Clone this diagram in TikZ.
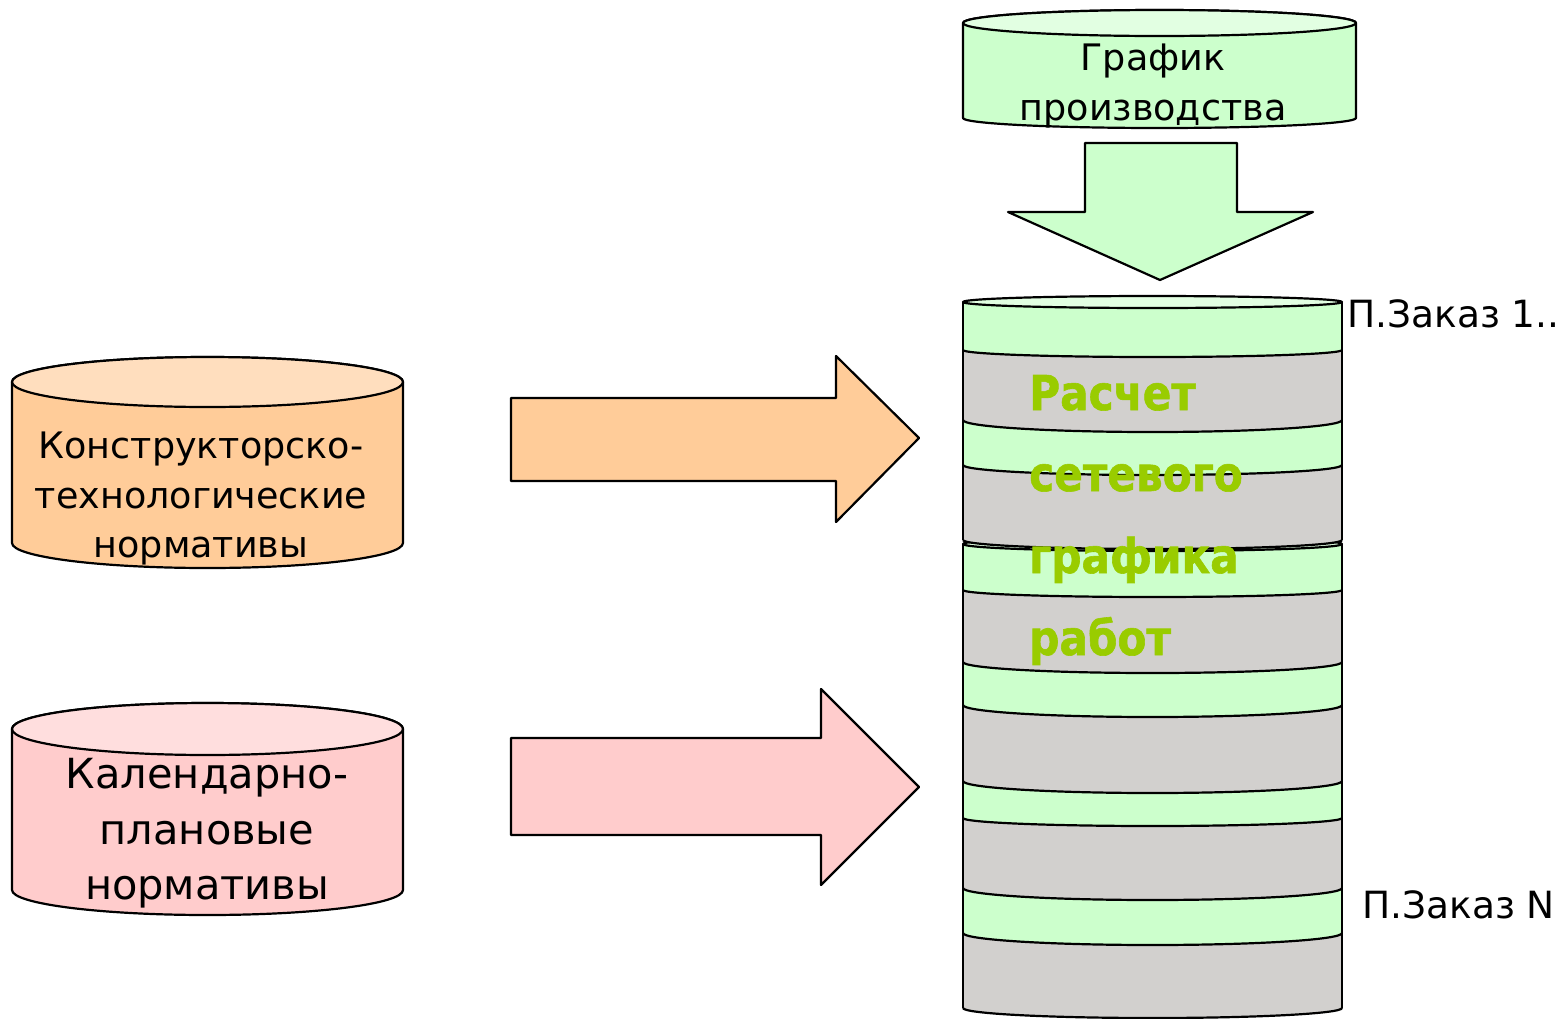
\documentclass[tikz,border=0pt]{standalone}
\usepackage{fontspec}
\setmainfont{DejaVu Sans}
\newfontfamily\gfont[FakeStretch=0.88,FakeBold=1.2]{DejaVu Sans}
\definecolor{gbody}{HTML}{CCFFCC}
\definecolor{gtop}{HTML}{E2FFE2}
\definecolor{obody}{HTML}{FFCC99}
\definecolor{otop}{HTML}{FFDEBE}
\definecolor{pbody}{HTML}{FFCCCC}
\definecolor{ptop}{HTML}{FFDEDE}
\definecolor{sgray}{HTML}{D2D0CE}
\definecolor{tgreen}{HTML}{99CC00}
\newcommand\sband[5]{\fill[#5] (963,-#1) arc[start angle=180,end angle=360,x radius=189.5,y radius=#2] -- (1342,-#3) arc[start angle=0,end angle=-180,x radius=189.5,y radius=#4] -- cycle;}
\newcommand\stopband[4]{\fill[#4] (963,-#1) arc[start angle=180,end angle=0,x radius=189.5,y radius=#2] -- (1342,-#3) arc[start angle=0,end angle=-180,x radius=189.5,y radius=#2] -- cycle;}
\newcommand\sarc[2]{\draw[outl] (963,-#1) arc[start angle=180,end angle=360,x radius=189.5,y radius=#2];}
\begin{document}
\begin{tikzpicture}[x=1pt,y=1pt,
  outl/.style={draw=black,line width=2.2pt,line join=round},
  reg/.style={font=\fontsize{36.5}{42}\selectfont,anchor=base,inner sep=0pt},
  big/.style={font=\fontsize{41.5}{48}\selectfont,anchor=base,inner sep=0pt},
  lbl/.style={font=\fontsize{37.5}{42}\selectfont,anchor=base west,inner sep=0pt},
  gtxt/.style={font=\gfont\bfseries\fontsize{48}{54}\selectfont,text=tgreen,anchor=base west,inner sep=0pt}]
\useasboundingbox (0,0) rectangle (1559,-1018);
\fill[white] (0,0) rectangle (1559,-1018);

% --- top cylinder: График производства
\path[outl,fill=gbody] (963,-23) -- (963,-118) arc[start angle=180,end angle=360,x radius=196.5,y radius=10] -- (1356,-23) arc[start angle=0,end angle=180,x radius=196.5,y radius=13] -- cycle;
\path[outl,fill=gtop] (1159.5,-23) ellipse[x radius=196.5,y radius=13];
\node[reg] (g1) at (1153,-70) {График};
\node[reg] (g2) at (1153,-120) {производства};

% --- down arrow
\path[outl,fill=gbody] (1085,-143) -- (1237,-143) -- (1237,-212) -- (1313,-212) -- (1160,-280) -- (1008,-212) -- (1085,-212) -- cycle;

% --- orange cylinder
\path[outl,fill=obody] (12,-382) -- (12,-543) arc[start angle=180,end angle=360,x radius=195.5,y radius=25] -- (403,-382) arc[start angle=0,end angle=180,x radius=195.5,y radius=25] -- cycle;
\path[outl,fill=otop] (207.5,-382) ellipse[x radius=195.5,y radius=25];
\node[reg] (o1) at (201,-458) {Конструкторско-};
\node[reg] (o2) at (201,-508) {технологические};
\node[reg] (o3) at (201,-557) {нормативы};

% --- pink cylinder
\path[outl,fill=pbody] (12,-729) -- (12,-890) arc[start angle=180,end angle=360,x radius=195.5,y radius=25] -- (403,-729) arc[start angle=0,end angle=180,x radius=195.5,y radius=26] -- cycle;
\path[outl,fill=ptop] (207.5,-729) ellipse[x radius=195.5,y radius=26];
\node[big] (p1) at (207,-788) {Календарно-};
\node[big] (p2) at (207,-844) {плановые};
\node[big] (p3) at (207,-899) {нормативы};

% --- block arrows
\path[outl,fill=obody] (511,-398) -- (836,-398) -- (836,-356) -- (919,-438) -- (836,-522) -- (836,-481) -- (511,-481) -- cycle;
\path[outl,fill=pbody] (511,-738) -- (821,-738) -- (821,-689) -- (919,-787) -- (821,-885) -- (821,-835) -- (511,-835) -- cycle;

% --- stack, lower part (drawn first)
\stopband{544}{7}{590}{gbody}
\sband{590}{7}{662}{11}{sgray}
\sband{662}{11}{705}{12}{gbody}
\sband{705}{12}{781}{12}{sgray}
\sband{781}{12}{818}{8}{gbody}
\sband{818}{8}{888}{12}{sgray}
\sband{888}{12}{933}{12}{gbody}
\sband{933}{12}{1008}{10}{sgray}
\draw[outl] (963,-544) -- (963,-1008);
\draw[outl] (1342,-544) -- (1342,-1008);
\path[outl,fill=gtop] (1152.5,-544) ellipse[x radius=189.5,y radius=7];
\sarc{590}{7}\sarc{662}{11}\sarc{705}{12}\sarc{781}{12}\sarc{818}{8}\sarc{888}{12}\sarc{933}{12}\sarc{1008}{10}

% --- stack, upper part
\stopband{302}{6}{350}{gbody}
\sband{350}{7}{420}{12}{sgray}
\sband{420}{12}{465}{10}{gbody}
\sband{465}{10}{540}{9}{sgray}
\draw[outl] (963,-302) -- (963,-540);
\draw[outl] (1342,-302) -- (1342,-540);
\path[outl,fill=gtop] (1152.5,-302) ellipse[x radius=189.5,y radius=6];
\sarc{350}{7}\sarc{420}{12}\sarc{465}{10}\sarc{540}{9}

% --- labels
\node[gtxt] (t1) at (1029,-410) {Расчет};
\node[gtxt] (t2) at (1029,-491) {сетевого};
\node[gtxt] (t3) at (1029,-573) {графика};
\node[gtxt] (t4) at (1029,-655) {работ};
\node[lbl] (z1) at (1347,-327) {П.Заказ 1..};
\node[lbl] (zn) at (1362,-918) {П.Заказ N};
\end{tikzpicture}
\end{document}
